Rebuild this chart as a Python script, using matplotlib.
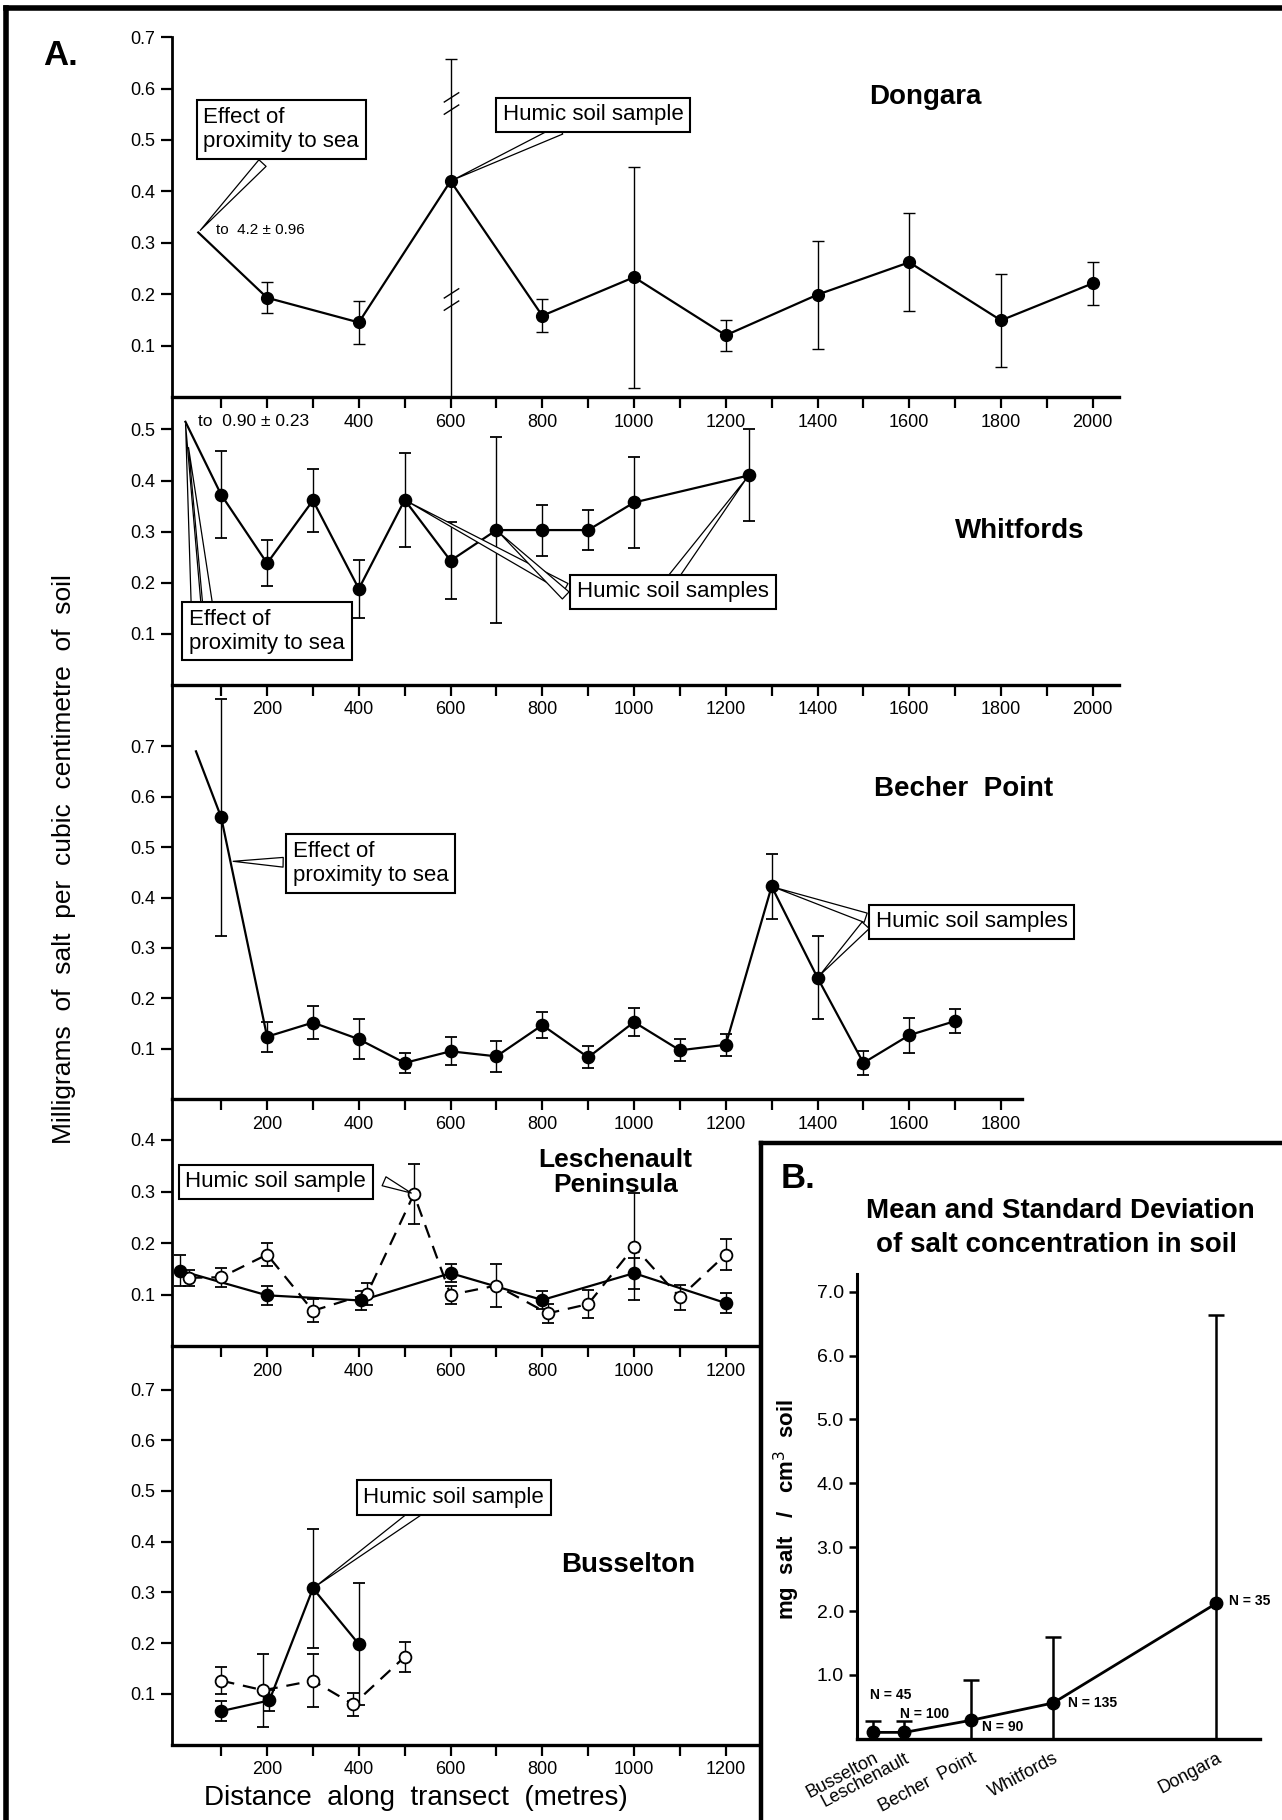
import matplotlib
matplotlib.use('Agg')
import matplotlib.pyplot as plt
from matplotlib.lines import Line2D
from matplotlib.path import Path

plt.rcParams['font.family'] = ['Liberation Sans', 'DejaVu Sans']

# ---------------- data ----------------
dongara_x = [200, 400, 600, 800, 1000, 1200, 1400, 1600, 1800, 2000]
dongara_y = [0.193, 0.145, 0.420, 0.158, 0.233, 0.120, 0.199, 0.262, 0.149, 0.221]
dongara_err_lo = [0.030, 0.042, 0.420, 0.032, 0.215, 0.030, 0.105, 0.095, 0.090, 0.042]
dongara_err_hi = [0.030, 0.042, 0.237, 0.032, 0.215, 0.030, 0.105, 0.095, 0.090, 0.042]
dongara_breaks = [0.572, 0.190]
dongara_stub = (50, 0.32)

whitfords_x = [100, 200, 300, 400, 500, 600, 700, 800, 900, 1000, 1250]
whitfords_y = [0.372, 0.238, 0.361, 0.188, 0.362, 0.243, 0.303, 0.303, 0.303, 0.357, 0.410]
whitfords_err = [0.085, 0.045, 0.062, 0.057, 0.092, 0.075, 0.182, 0.050, 0.040, 0.090, 0.090]
whitfords_stub = (22, 0.515)

becher_x = [100, 200, 300, 400, 500, 600, 700, 800, 900, 1000, 1100, 1200, 1300, 1400, 1500, 1600, 1700]
becher_y = [0.559, 0.124, 0.152, 0.119, 0.072, 0.095, 0.085, 0.147, 0.083, 0.153, 0.097, 0.108,
            0.422, 0.241, 0.072, 0.127, 0.155]
becher_err = [0.235, 0.030, 0.033, 0.040, 0.020, 0.028, 0.031, 0.025, 0.022, 0.027, 0.022, 0.022,
              0.065, 0.082, 0.024, 0.035, 0.023]
becher_stub = (45, 0.69)

lesch_filled_x = [10, 200, 405, 600, 800, 1000, 1200]
lesch_filled_y = [0.147, 0.099, 0.089, 0.142, 0.090, 0.142, 0.084]
lesch_filled_err = [0.030, 0.019, 0.019, 0.018, 0.018, 0.030, 0.020]
lesch_open_x = [30, 100, 200, 300, 418, 520, 600, 700, 812, 900, 1000, 1100, 1200]
lesch_open_y = [0.133, 0.134, 0.178, 0.069, 0.102, 0.295, 0.100, 0.118, 0.064, 0.082, 0.193, 0.095, 0.178]
lesch_open_err = [0.016, 0.018, 0.022, 0.022, 0.021, 0.058, 0.018, 0.041, 0.019, 0.027, 0.104, 0.024, 0.030]

buss_filled_x = [100, 205, 300, 400]
buss_filled_y = [0.066, 0.087, 0.308, 0.198]
buss_filled_err = [0.020, 0.020, 0.118, 0.120]
buss_open_x = [100, 192, 300, 388, 500]
buss_open_y = [0.126, 0.107, 0.126, 0.079, 0.173]
buss_open_err = [0.027, 0.072, 0.052, 0.022, 0.030]

sites = ['Busselton', 'Leschenault', 'Becher  Point', 'Whitfords', 'Dongara']
site_pos = [0.50, 1.47, 3.54, 6.07, 11.12]
site_mean = [0.10, 0.10, 0.29, 0.56, 2.12]
site_sd = [0.18, 0.18, 0.63, 1.03, 4.52]
site_n = [45, 100, 90, 135, 35]

# ---------------- layout helpers ----------------
W, H = 1104.0, 1568.0
X0, PXM = 151.0, 0.395
BOXFS = 16


def rect(l, t, r, b):
    return [l / W, 1 - b / H, (r - l) / W, (b - t) / H]


def xl(l, r):
    return ((l - X0) / PXM, (r - X0) / PXM)


fig = plt.figure(figsize=(12.82, 18.2), dpi=100)


def setup(ax, xlim, ymax, yticks, xmax_tick, skip=()):
    ax.set_facecolor('none')
    for s in ['top', 'right']:
        ax.spines[s].set_visible(False)
    ax.spines['left'].set_linewidth(2.0)
    ax.spines['bottom'].set_linewidth(2.4)
    ax.set_xlim(*xlim)
    ax.set_ylim(0, ymax)
    ax.set_yticks(yticks)
    ax.set_yticklabels([f'{v:.1f}' for v in yticks])
    xt = list(range(100, xmax_tick + 1, 100))
    ax.set_xticks(xt)
    ax.set_xticklabels([str(v) if (v % 200 == 0 and v not in skip) else '' for v in xt])
    ax.tick_params(direction='out', length=8, width=1.6, labelsize=13, pad=4)


def series(ax, x, y, err, filled=True, stub=None, dashed=False):
    lx, ly = list(x), list(y)
    if stub is not None:
        lx = [stub[0]] + lx
        ly = [stub[1]] + ly
    ax.plot(lx, ly, color='k', lw=1.6, ls=(0, (6, 4)) if dashed else '-', zorder=3, clip_on=False)
    ax.errorbar(x, y, yerr=err, fmt='o', ms=8.5, mfc='k' if filled else 'white', mec='k', mew=1.3,
                ecolor='k', elinewidth=1.0, capsize=4, capthick=1.0, zorder=4)


def callout(ax, x, y, text, pointers, fs=BOXFS):
    ax.text(x, y, text, ha='left', va='center', fontsize=fs, zorder=7, linespacing=1.2,
            bbox=dict(boxstyle='square,pad=0.3', fc='white', ec='k', lw=1.5))
    for (sx, sy), (tx, ty) in pointers:
        ax.annotate('', xy=(tx, ty), xytext=(sx, sy), zorder=6, annotation_clip=False,
                    arrowprops=dict(arrowstyle='wedge,tail_width=0.7,shrink_factor=0.5',
                                    fc='white', ec='k', lw=0.9, shrinkA=0, shrinkB=2))


def title(ax, x, y, text, fs=20):
    ax.text(x, y, text, ha='center', va='center', fontsize=fs, fontweight='bold', linespacing=1.1)


# ---------------- Dongara ----------------
axD = fig.add_axes(rect(148, 32, 964, 342))
setup(axD, xl(148, 964), 0.7, [0.1, 0.2, 0.3, 0.4, 0.5, 0.6, 0.7], 2000, skip=(200,))
lx = [dongara_stub[0]] + dongara_x
ly = [dongara_stub[1]] + dongara_y
axD.plot(lx, ly, color='k', lw=1.6, zorder=3)
axD.errorbar(dongara_x, dongara_y, yerr=[dongara_err_lo, dongara_err_hi], fmt='o', ms=8.5, mfc='k',
             mec='k', ecolor='k', elinewidth=1.0, capsize=4, capthick=1.0, zorder=4)
brk = Path([(-0.7, -1.0), (0.7, -0.1), (-0.7, 0.1), (0.7, 1.0)],
           [Path.MOVETO, Path.LINETO, Path.MOVETO, Path.LINETO])
axD.plot([dongara_x[2]] * len(dongara_breaks), dongara_breaks, ls='none', marker=brk, ms=16,
         mew=1.0, color='k', zorder=5)
axD.text(89, 0.325, 'to  4.2 ± 0.96', fontsize=11, va='center')
callout(axD, 61, 0.52, 'Effect of\nproximity to sea', [((190, 0.455), dongara_stub)])
callout(axD, 714, 0.549, 'Humic soil sample', [((840, 0.52), (dongara_x[2], dongara_y[2]))])
title(axD, 1635, 0.583, 'Dongara')

# ---------------- Whitfords ----------------
axW = fig.add_axes(rect(148, 342, 964, 590))
setup(axW, xl(148, 964), 0.5636, [0.1, 0.2, 0.3, 0.4, 0.5], 2000)
series(axW, whitfords_x, whitfords_y, whitfords_err, stub=whitfords_stub)
axW.text(50, 0.516, 'to  0.90 ± 0.23', fontsize=12.5, va='center')
callout(axW, 30, 0.105, 'Effect of\nproximity to sea',
        [((45, 0.16), whitfords_stub), ((70, 0.16), (28, 0.47))])
callout(axW, 876, 0.182, 'Humic soil samples',
        [((851, 0.19), (whitfords_x[4], whitfords_y[4])),
         ((851, 0.175), (whitfords_x[6], whitfords_y[6])),
         ((1085, 0.21), (whitfords_x[10], whitfords_y[10]))])
title(axW, 1841, 0.302, 'Whitfords')

# ---------------- Becher Point ----------------
axB1 = fig.add_axes(rect(148, 590, 880, 947))
setup(axB1, xl(148, 880), 0.822, [0.1, 0.2, 0.3, 0.4, 0.5, 0.6, 0.7], 1800)
series(axB1, becher_x, becher_y, becher_err, stub=becher_stub)
callout(axB1, 256, 0.468, 'Effect of\nproximity to sea', [((235, 0.47), (120, 0.472))])
callout(axB1, 1527, 0.352, 'Humic soil samples',
        [((1505, 0.36), (becher_x[12], becher_y[12])),
         ((1505, 0.345), (becher_x[13], becher_y[13]))])
title(axB1, 1719, 0.615, 'Becher  Point')

# ---------------- Leschenault ----------------
axL = fig.add_axes(rect(148, 947, 653, 1160))
setup(axL, xl(148, 653), 0.479, [0.1, 0.2, 0.3, 0.4], 1200)
series(axL, lesch_open_x, lesch_open_y, lesch_open_err, filled=False, dashed=True)
series(axL, lesch_filled_x, lesch_filled_y, lesch_filled_err, filled=True)
callout(axL, 22, 0.319, 'Humic soil sample', [((455, 0.32), (lesch_open_x[5], lesch_open_y[5]))])
title(axL, 960, 0.337, 'Leschenault\nPeninsula', fs=19)

# ---------------- Busselton ----------------
axS = fig.add_axes(rect(148, 1160, 653, 1503))
setup(axS, xl(148, 653), 0.785, [0.1, 0.2, 0.3, 0.4, 0.5, 0.6, 0.7], 1200)
series(axS, buss_open_x, buss_open_y, buss_open_err, filled=False, dashed=True)
series(axS, buss_filled_x, buss_filled_y, buss_filled_err, filled=True)
callout(axS, 410, 0.487, 'Humic soil sample', [((529, 0.46), (buss_filled_x[2], buss_filled_y[2]))])
title(axS, 987, 0.355, 'Busselton')

fig.text(358 / W, 1 - 1549 / H, 'Distance  along  transect  (metres)', ha='center', va='center',
         fontsize=20)
fig.text(55 / W, 1 - 740 / H, 'Milligrams  of  salt  per  cubic  centimetre  of  soil', rotation=90,
         ha='center', va='center', fontsize=19)
fig.text(37 / W, 1 - 48 / H, 'A.', fontsize=25, fontweight='bold', va='center', ha='left')

# ---------------- Panel B ----------------
axM = fig.add_axes(rect(738, 1098, 1085, 1498))
axM.set_zorder(3)
axM.set_facecolor('none')
for s in ['top', 'right']:
    axM.spines[s].set_visible(False)
axM.spines['left'].set_linewidth(2.2)
axM.spines['bottom'].set_linewidth(2.4)
axM.plot(site_pos, site_mean, color='k', lw=2.0, zorder=3)
axM.errorbar(site_pos, site_mean, yerr=site_sd, fmt='o', ms=9, color='k', elinewidth=1.8,
             capsize=6, capthick=1.8, zorder=4)
axM.set_xlim(0, 12.47)
axM.set_ylim(0, 7.27)
yt = [1.0, 2.0, 3.0, 4.0, 5.0, 6.0, 7.0]
axM.set_yticks(yt)
axM.set_yticklabels([f'{v:.1f}' for v in yt])
axM.tick_params(axis='y', direction='out', length=6, width=1.8, labelsize=14)
axM.set_xticks(site_pos)
axM.set_xticklabels(sites, rotation=28, ha='right', rotation_mode='anchor', fontsize=13)
axM.tick_params(axis='x', length=0, pad=8)
n_offsets = [(-2, 27), (-3, 13), (8, -5), (11, 0), (9, 2)]
for p, m, n, (dx, dy) in zip(site_pos, site_mean, site_n, n_offsets):
    axM.annotate(f'N = {n}', xy=(p, m), xytext=(dx, dy), textcoords='offset points',
                 ha='left', va='center', fontsize=10, fontweight='bold')

fig.text(678 / W, 1 - 1300 / H, 'mg  salt   /   cm$^3$  soil', rotation=90, ha='center', va='center',
         fontsize=16, fontweight='bold')
fig.text(913 / W, 1 - 1043 / H, 'Mean and Standard Deviation', ha='center', va='center',
         fontsize=20, fontweight='bold')
fig.text(910 / W, 1 - 1073 / H, 'of salt concentration in soil', ha='center', va='center',
         fontsize=20, fontweight='bold')
fig.text(672 / W, 1 - 1015 / H, 'B.', fontsize=25, fontweight='bold', va='center', ha='left')

# ---------------- frames ----------------
fig.add_artist(Line2D([5 / W, 5 / W], [0, 1 - 7 / H], transform=fig.transFigure, color='k', lw=4.0))
fig.add_artist(Line2D([5 / W, 1], [1 - 7 / H, 1 - 7 / H], transform=fig.transFigure, color='k', lw=4.0))
fig.add_artist(Line2D([655 / W, 655 / W], [0, 1 - 985 / H], transform=fig.transFigure, color='k', lw=3.2))
fig.add_artist(Line2D([655 / W, 1], [1 - 985 / H, 1 - 985 / H], transform=fig.transFigure, color='k', lw=3.2))

fig.savefig('out.png', dpi=100)
